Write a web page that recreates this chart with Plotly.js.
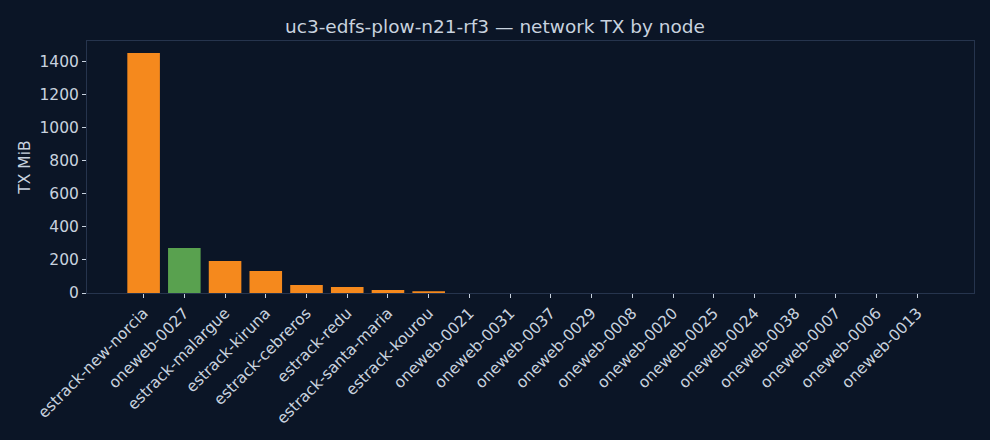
<!DOCTYPE html>
<html>
<head>
<meta charset="utf-8">
<script src="https://cdn.plot.ly/plotly-3.0.1.min.js"></script>
<style>
  html, body { margin: 0; padding: 0; background: #0b1526; }
  #chart { width: 990px; height: 440px; }
</style>
</head>
<body>
<div id="chart"></div>
<script>
// node names, sorted by TX volume
const nodes = [
    'estrack-new-norcia', 'oneweb-0027', 'estrack-malargue', 'estrack-kiruna',
    'estrack-cebreros', 'estrack-redu', 'estrack-santa-maria', 'estrack-kourou',
    'oneweb-0021', 'oneweb-0031', 'oneweb-0037', 'oneweb-0029', 'oneweb-0008',
    'oneweb-0020', 'oneweb-0025', 'oneweb-0024', 'oneweb-0038', 'oneweb-0007',
    'oneweb-0006', 'oneweb-0013'
];
// TX MiB per node
const txMiB = [
    1450, 272, 193, 133,
    48, 36, 18, 11,
    0.6, 0.5, 0.5, 0.4, 0.4,
    0.3, 0.3, 0.3, 0.2, 0.2,
    0.2, 0.1
];
const highlightNode = 'oneweb-0027';

const C = {
    bg: '#0b1526',
    frame: '#26344d',
    text: '#c8d2df',
    orange: '#f5891d',
    green: '#59a14f'
};

const colors = nodes.map(n => n === highlightNode ? C.green : C.orange);
const n = nodes.length;
const pad = 0.05 * (n - 1 + 0.8);

const layout = {
    width: 990, height: 440,
    paper_bgcolor: C.bg, plot_bgcolor: C.bg,
    margin: { l: 87, r: 16, t: 41, b: 147 },
    font: { family: 'DejaVu Sans', size: 15.5, color: C.text },
    title: { text: 'uc3-edfs-plow-n21-rf3 — network TX by node', font: { size: 18.5, color: C.text }, x: 0.5, xanchor: 'center', y: 0.939, yanchor: 'middle' },
    showlegend: false,
    xaxis: {
        type: 'category',
        range: [-0.4 - pad, n - 1 + 0.4 + pad],
        tickangle: -45,
        ticks: 'outside', ticklen: 4, tickcolor: C.text, tickwidth: 1,
        showline: true, linecolor: C.frame, mirror: true,
        showgrid: false, zeroline: false,
        tickfont: { size: 15.5, color: C.text }
    },
    yaxis: {
        range: [0, 1450 * 1.05],
        tickvals: [0, 200, 400, 600, 800, 1000, 1200, 1400],
        ticks: 'outside', ticklen: 4, tickcolor: C.text, tickwidth: 1,
        showline: true, linecolor: C.frame, mirror: true,
        showgrid: false, zeroline: false,
        tickfont: { size: 15.5, color: C.text },
        title: { text: 'TX MiB', font: { size: 15.5, color: C.text }, standoff: 5 }
    }
};

Plotly.newPlot('chart', [{
    x: nodes, y: txMiB, type: 'bar',
    marker: { color: colors, line: { width: 0 } },
    width: 0.8
}], layout, { staticPlot: true, displayModeBar: false });
</script>
</body>
</html>
